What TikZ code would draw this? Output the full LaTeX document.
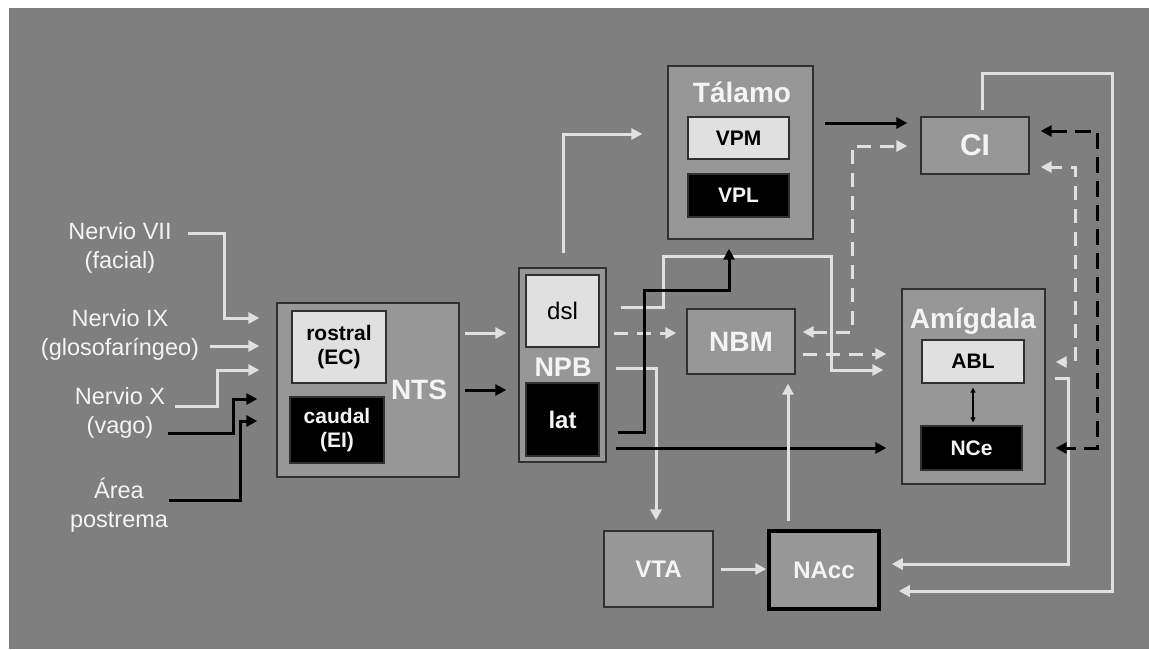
\documentclass[tikz,border=0pt]{standalone}
\usepackage{fontspec}
\setmainfont{Liberation Sans}
\usetikzlibrary{arrows.meta,calc}
\definecolor{bg}{HTML}{7F7F7F}
\definecolor{boxg}{HTML}{979797}
\definecolor{lite}{HTML}{E0E0E0}
\definecolor{edgec}{HTML}{303030}
\definecolor{txtw}{HTML}{F4F4F4}
\tikzset{
  box/.style={draw=edgec, line width=1.3pt, fill=boxg, inner sep=0pt},
  litebox/.style={draw=edgec, line width=1.3pt, fill=lite, inner sep=0pt, text=black, font=\bfseries\fontsize{21}{24}\selectfont, align=center},
  darkbox/.style={draw=edgec, line width=1.3pt, fill=black, inner sep=0pt, text=txtw, font=\bfseries\fontsize{21}{24}\selectfont, align=center},
  big/.style={text=txtw, font=\bfseries\fontsize{28}{30}\selectfont, inner sep=0pt},
  mid/.style={text=txtw, font=\bfseries\fontsize{24}{28}\selectfont, inner sep=0pt},
  lbl/.style={text=txtw, font=\fontsize{23.5}{29}\selectfont, align=center, inner sep=0pt},
  wl/.style={draw=lite, line width=3pt},
  bl/.style={draw=black, line width=3pt},
  tip/.style={-{Triangle[length=11pt,width=11pt]}},
  tips2/.style={{Triangle[length=11pt,width=11pt]}-{Triangle[length=11pt,width=11pt]}},
  wdash/.style={dash pattern=on 14pt off 9pt},
  bdash/.style={dash pattern=on 16pt off 8pt},
}
\begin{document}
\begin{tikzpicture}[x=1pt,y=-1pt]
\useasboundingbox (0,0) rectangle (1149,649);
\fill[white] (0,0) rectangle (1149,649);
\fill[bg] (9,8) rectangle (1149,649);

% labels on the left
\node[lbl] (n7) at (120,248) {Nervio VII\\(facial)};
\node[lbl] (n9) at (120,335) {Nervio IX\\(glosofaríngeo)};
\node[lbl] (n10) at (120,413) {Nervio X\\(vago)};
\node[lbl] (ap) at (119,505) {Área\\postrema};
\coordinate (c7) at (188,233);
\coordinate (c9) at (210,346);
\coordinate (c10w) at (175,406);
\coordinate (c10b) at (168,433);
\coordinate (cap) at (169,500);

% NTS
\node[box, minimum width=182pt, minimum height=174pt] (NTS) at (368,390) {};
\node[litebox, minimum width=94pt, minimum height=72pt] (rostral) at (339,347) {rostral\\(EC)};
\node[darkbox, minimum width=94pt, minimum height=66pt] (caudal) at (337,430) {caudal\\(EI)};
\node[big] (ntsl) at (419,390) {NTS};

% NPB
\node[box, minimum width=87pt, minimum height=194pt] (NPB) at (562.5,365) {};
\node[litebox, minimum width=73pt, minimum height=72pt, font=\fontsize{24}{28}\selectfont] (dsl) at (562.5,311) {dsl};
\node[darkbox, minimum width=73pt, minimum height=73pt, font=\bfseries\fontsize{24}{28}\selectfont] (lat) at (562.5,419.5) {lat};
\node[big, font=\bfseries\fontsize{27}{30}\selectfont] (npbl) at (563,367) {NPB};

% Talamo
\node[box, minimum width=145pt, minimum height=173pt] (Tal) at (740.5,152.5) {};
\node[big] (tall) at (742,92) {Tálamo};
\node[litebox, minimum width=101pt, minimum height=42pt] (VPM) at (738.5,138) {VPM};
\node[darkbox, minimum width=101pt, minimum height=43pt] (VPL) at (738.5,195.5) {VPL};

% CI
\node[box, minimum width=108pt, minimum height=57pt, big, font=\bfseries\fontsize{30}{32}\selectfont] (CI) at (975,145.5) {CI};

% NBM
\node[box, minimum width=108pt, minimum height=65pt, big] (NBM) at (741,341.5) {NBM};

% Amigdala
\node[box, minimum width=143pt, minimum height=195pt] (Amig) at (973.5,386.5) {};
\node[big] (amigl) at (973,321) {Amígdala};
\node[litebox, minimum width=102pt, minimum height=43pt] (ABL) at (973,361.5) {ABL};
\node[darkbox, minimum width=101pt, minimum height=44pt] (NCe) at (971.5,448) {NCe};

% VTA, NAcc
\node[box, minimum width=109pt, minimum height=76pt, mid] (VTA) at (658.5,569) {VTA};
\node[box, line width=3.5pt, draw=black, minimum width=110pt, minimum height=78pt, mid] (NAcc) at (824,570) {NAcc};

% inputs to NTS
\draw[wl,tip] (c7) -| (224,318) -- ($(NTS.west)+(-17,-72)$);
\draw[wl,tip] (c9) -- ($(NTS.west)+(-17,-44)$);
\draw[wl,tip] (c10w) -| (217,370) -- ($(NTS.west)+(-17,-20)$);
\draw[bl,tip] (c10b) -| (233,399) -- ($(NTS.west)+(-19,9)$);
\draw[bl,tip] (cap) -| (240,421) -- ($(NTS.west)+(-19,31)$);

% NTS -> NPB
\draw[wl,tip] ($(NTS.east)+(5,-57)$) -- ($(NPB.west)+(-12,-32)$);
\draw[bl,tip] ($(NTS.east)+(5,0)$) -- ($(NPB.west)+(-12,25)$);

% NPB outputs
\draw[wl,tip] ($(NPB.north)+(0.5,-14)$) |- ($(Tal.west)+(-25,-18.5)$);
\draw[wl,tip] ($(dsl.east)+(21,-4)$) -| (663,256) -| (831,370) -- ($(Amig.west)+(-18,-16.5)$);
\draw[wl,wdash,tip] ($(dsl.east)+(14,22)$) -- ($(NBM.west)+(-10,-8.5)$);
\draw[wl,tip] ($(NPB.east)+(9,3)$) -| ($(VTA.north)+(-2.5,-10)$);
\draw[bl,tip] ($(lat.east)+(18,12.5)$) -| (644,290) -| ($(Tal.south)+(-11.5,9)$);
\draw[bl,tip] ($(NPB.east)+(9,83)$) -- ($(Amig.west)+(-15,61.5)$);

% Talamo -> CI
\draw[bl,tip] ($(Tal.east)+(11,-29.5)$) -- ($(CI.west)+(-13,-22.5)$);

% NBM <-> CI, NBM -> Amig
\draw[wl,wdash,tips2] ($(NBM.east)+(7,-9.5)$) -| (852,146) -- ($(CI.west)+(-13,0.5)$);
\draw[wl,wdash,tip] ($(NBM.east)+(7,12.5)$) -- ($(Amig.west)+(-15,-32.5)$);

% NAcc -> NBM, VTA -> NAcc
\draw[wl,tip] ($(NAcc.north)+(-36,-8)$) -- ($(NBM.south)+(47,9)$);
\draw[wl,tip] ($(VTA.east)+(7,0)$) -- ($(NAcc.west)+(-1,-1)$);

% Amig / CI -> NAcc
\draw[wl,tip] ($(Amig.east)+(9,-8.5)$) -| (1068,564) -- ($(NAcc.east)+(11,-6)$);
\draw[wl,tip] ($(CI.north)+(7,-6)$) |- (1112,73) |- ($(NAcc.east)+(18,21)$);

% CI <-> Amig dashed
\draw[bl,bdash,tips2] ($(CI.east)+(11,-14.5)$) -| (1097,448) -- ($(Amig.east)+(10,61.5)$);
\draw[wl,wdash,dash phase=3pt,tips2] ($(CI.east)+(11,21.5)$) -| (1075,362) -- ($(Amig.east)+(10,-24.5)$);

% ABL <-> NCe
\draw[black, line width=1.3pt, {Triangle[length=5pt,width=5pt]}-{Triangle[length=5pt,width=5pt]}] ($(ABL.south)+(0,4)$) -- ($(NCe.north)+(1.5,-3)$);
\end{tikzpicture}
\end{document}
